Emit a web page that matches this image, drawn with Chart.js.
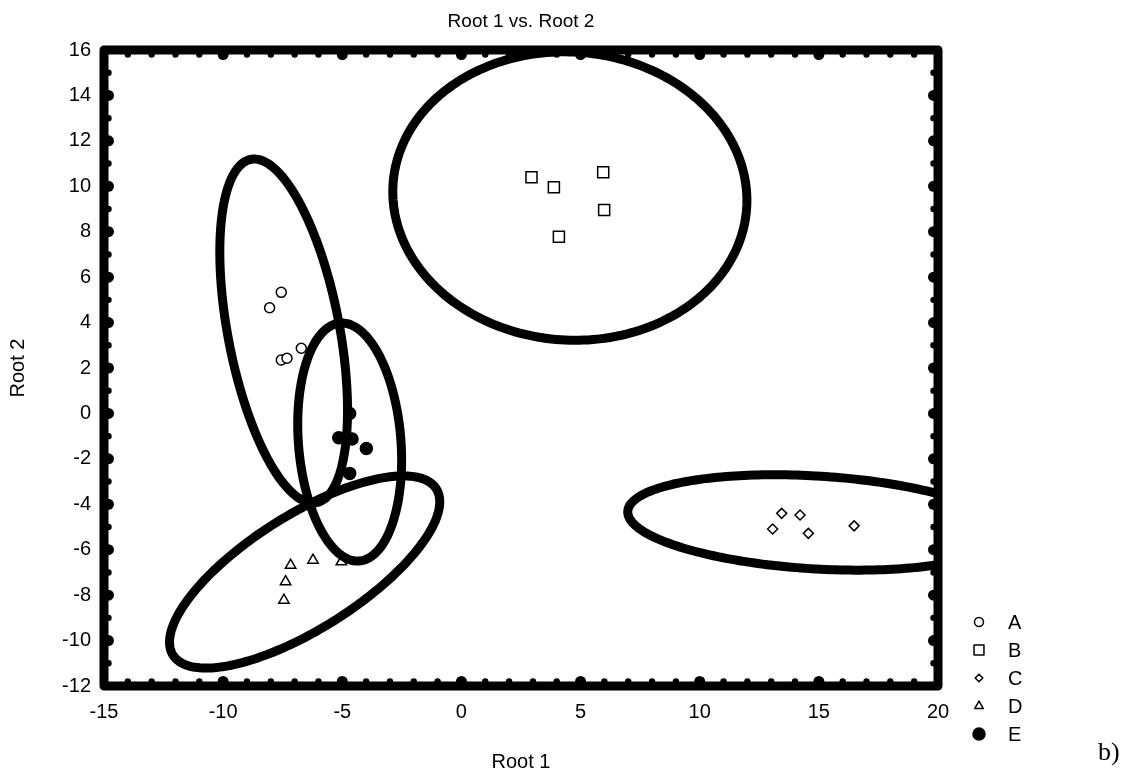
<!DOCTYPE html>
<html>
<head>
<meta charset="utf-8">
<script src="https://cdn.jsdelivr.net/npm/chart.js@4/dist/chart.umd.min.js"></script>
<style>
  body { margin: 0; background: #fff; }
</style>
</head>
<body>
<canvas id="rootChart" width="1139" height="775"></canvas>
<script>
var groups = ['A', 'B', 'C', 'D', 'E'];

var groupA = [{x: -8.05, y: 4.65}, {x: -7.56, y: 5.33}, {x: -7.56, y: 2.35}, {x: -7.32, y: 2.43}, {x: -6.72, y: 2.87}];
var groupB = [{x: 2.94, y: 10.40}, {x: 3.88, y: 9.96}, {x: 5.95, y: 10.62}, {x: 5.99, y: 8.96}, {x: 4.09, y: 7.78}];
var groupC = [{x: 13.44, y: -4.40}, {x: 14.21, y: -4.47}, {x: 13.06, y: -5.09}, {x: 14.56, y: -5.28}, {x: 16.48, y: -4.95}];
var groupD = [{x: -7.17, y: -6.68}, {x: -6.23, y: -6.46}, {x: -7.38, y: -7.41}, {x: -7.45, y: -8.22}, {x: -5.04, y: -6.53}];
var groupE = [{x: -4.69, y: 0.00}, {x: -5.15, y: -1.07}, {x: -4.59, y: -1.13}, {x: -3.99, y: -1.54}, {x: -4.69, y: -2.64}];

// confidence ellipses, one per group: centre, half width in x, half height in y, correlation
var ellipseCx = [-7.46, 4.55, 14.88, -6.58, -4.69];
var ellipseCy = [3.63, 9.57, -4.80, -6.98, -1.26];
var ellipseSx = [2.68, 7.43, 7.90, 5.67, 2.18];
var ellipseSy = [7.57, 6.35, 2.10, 4.23, 5.24];
var ellipseR = [-0.46, -0.03, -0.22, 0.73, -0.15];

var xTickLabels = [-15, -10, -5, 0, 5, 10, 15, 20];
var yTickLabels = [-12, -10, -8, -6, -4, -2, 0, 2, 4, 6, 8, 10, 12, 14, 16];

var FONT = 'Liberation Sans, Arial, sans-serif';
Chart.defaults.font.family = FONT;
Chart.defaults.font.size = 20;
Chart.defaults.color = '#000';

var markers = [
  {pointStyle: 'circle', radius: 5, fill: '#fff', legendRadius: 4.5},
  {pointStyle: 'rect', radius: 7.8, fill: '#fff', legendRadius: 7},
  {pointStyle: 'rectRot', radius: 5, fill: '#fff', legendRadius: 3.8},
  {pointStyle: 'triangle', radius: 6, fill: '#fff', legendRadius: 5},
  {pointStyle: 'circle', radius: 6, fill: '#000', legendRadius: 6}
];

var groupData = [groupA, groupB, groupC, groupD, groupE];

var ellipsePlugin = {
  id: 'ellipses',
  afterDatasetsDraw: function(chart) {
    var ctx = chart.ctx, xs = chart.scales.x, ys = chart.scales.y, a = chart.chartArea;
    ctx.save();
    ctx.beginPath();
    ctx.rect(a.left, a.top, a.right - a.left, a.bottom - a.top);
    ctx.clip();
    ctx.lineWidth = 9;
    ctx.strokeStyle = '#000';
    for (var i = 0; i < ellipseCx.length; i++) {
      var k = Math.sqrt(1 - ellipseR[i] * ellipseR[i]);
      ctx.beginPath();
      for (var s = 0; s <= 240; s++) {
        var t = s / 240 * 2 * Math.PI;
        var vx = ellipseCx[i] + ellipseSx[i] * Math.cos(t);
        var vy = ellipseCy[i] + ellipseSy[i] * (ellipseR[i] * Math.cos(t) + k * Math.sin(t));
        var px = xs.getPixelForValue(vx), py = ys.getPixelForValue(vy);
        if (s === 0) ctx.moveTo(px, py); else ctx.lineTo(px, py);
      }
      ctx.closePath();
      ctx.stroke();
    }
    ctx.restore();
  }
};

var framePlugin = {
  id: 'frame',
  afterDraw: function(chart) {
    var ctx = chart.ctx, a = chart.chartArea, xs = chart.scales.x, ys = chart.scales.y;
    var half = 4.5;
    function dot(x, y, r) {
      ctx.beginPath();
      ctx.arc(x, y, r, 0, 2 * Math.PI);
      ctx.fill();
    }
    ctx.save();
    ctx.fillStyle = '#000';
    ctx.strokeStyle = '#000';
    ctx.lineWidth = 9;
    ctx.lineJoin = 'round';
    ctx.strokeRect(a.left, a.top, a.right - a.left, a.bottom - a.top);
    xs.ticks.forEach(function(t) {
      if (t.value === xs.min || t.value === xs.max) return;
      var r = xTickLabels.indexOf(t.value) >= 0 ? 5.5 : 3.2;
      var px = xs.getPixelForValue(t.value);
      dot(px, a.top + half, r);
      dot(px, a.bottom - half, r);
    });
    ys.ticks.forEach(function(t) {
      if (t.value === ys.min || t.value === ys.max) return;
      var r = yTickLabels.indexOf(t.value) >= 0 ? 5.5 : 3.2;
      var py = ys.getPixelForValue(t.value);
      dot(a.left + half, py, r);
      dot(a.right - half, py, r);
    });

    // legend
    ctx.font = '20px ' + FONT;
    ctx.textAlign = 'left';
    ctx.textBaseline = 'middle';
    chart.data.datasets.forEach(function(ds, i) {
      var y = 622 + i * 28;
      var m = markers[i];
      ctx.fillStyle = m.fill;
      ctx.strokeStyle = '#000';
      ctx.lineWidth = 1.5;
      Chart.helpers.drawPoint(ctx, {pointStyle: m.pointStyle, radius: m.legendRadius, rotation: 0, borderWidth: 1.5}, 979, y);
      ctx.fillStyle = '#000';
      ctx.fillText(ds.label, 1008, y + 1);
    });

    ctx.font = '26px Liberation Serif, Times New Roman, serif';
    ctx.textBaseline = 'alphabetic';
    ctx.fillText('b)', 1098, 760);
    ctx.restore();
  }
};

new Chart(document.getElementById('rootChart').getContext('2d'), {
  type: 'scatter',
  data: {
    datasets: groups.map(function(g, i) {
      return {
        label: g,
        data: groupData[i],
        pointStyle: markers[i].pointStyle,
        pointRadius: markers[i].radius,
        pointBackgroundColor: markers[i].fill,
        pointBorderColor: '#000',
        pointBorderWidth: 1.5
      };
    })
  },
  options: {
    responsive: false,
    animation: false,
    events: [],
    layout: { padding: { left: 0, right: 201, top: 0, bottom: 0 } },
    plugins: {
      legend: { display: false },
      tooltip: { enabled: false },
      title: {
        display: true,
        text: 'Root 1 vs. Root 2',
        fullSize: false,
        font: { size: 19, weight: 'normal' },
        padding: { top: 10.6, bottom: 16.6 }
      }
    },
    scales: {
      x: {
        type: 'linear',
        min: -15,
        max: 20,
        afterFit: function(s) { s.height = 89; },
        grid: { display: false, drawTicks: false },
        border: { display: false },
        ticks: {
          stepSize: 1,
          autoSkip: false,
          maxRotation: 0,
          padding: 14,
          callback: function(v) { return xTickLabels.indexOf(v) >= 0 ? String(v) : ''; }
        },
        title: { display: true, text: 'Root 1', padding: { top: 0, bottom: 1 } }
      },
      y: {
        type: 'linear',
        min: -12,
        max: 16,
        afterFit: function(s) { s.width = 104; },
        grid: { display: false, drawTicks: false },
        border: { display: false },
        ticks: {
          stepSize: 1,
          autoSkip: false,
          padding: 13,
          callback: function(v) { return yTickLabels.indexOf(v) >= 0 ? String(v) : ''; }
        },
        title: { display: true, text: 'Root 2', padding: { top: 6, bottom: 0 } }
      }
    }
  },
  plugins: [ellipsePlugin, framePlugin]
});
</script>
</body>
</html>
